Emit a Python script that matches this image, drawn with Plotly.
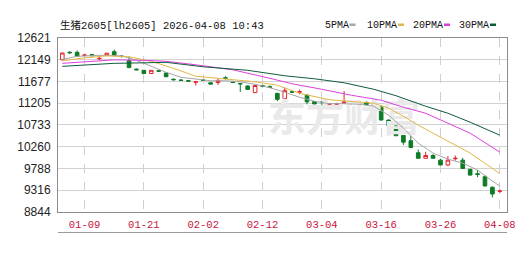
import plotly.graph_objects as go

# ---------------- data ----------------
dates = ["01-06", "01-07", "01-08", "01-09", "01-12", "01-13", "01-14", "01-15", "01-16",
         "01-19", "01-20", "01-21", "01-22", "01-23", "01-26", "01-27", "01-28", "01-29", "01-30",
         "02-02", "02-03", "02-04", "02-05", "02-06", "02-09", "02-10", "02-11", "02-12", "02-13",
         "02-24", "02-25", "02-26", "02-27",
         "03-02", "03-03", "03-04", "03-05", "03-06", "03-09", "03-10", "03-11", "03-12", "03-13",
         "03-16", "03-17", "03-18", "03-19", "03-20", "03-23", "03-24", "03-25", "03-26", "03-27",
         "03-30", "03-31", "04-01", "04-02", "04-03", "04-07", "04-08"]

opens = [12151, 12310, 12310, 12240, 12262, 12170, 12240, 12325, 12230, 12130,
         11945, 11920, 11850, 11910, 11862, 11725, 11710, 11695, 11660, 11710,
         11650, 11655, 11760, 11665, 11635, 11580, 11435, 11590, 11565, 11420,
         11305, 11460, 11445, 11380, 11240, 11230, 11180, 11185, 11210, 11210,
         11200, 11225, 11170, 11120, 10840, 10710, 10505, 10390, 10130, 10010,
         10070, 9970, 9865, 10000, 9970, 9770, 9675, 9610, 9380, 9290]
highs = [12310, 12340, 12350, 12280, 12275, 12200, 12300, 12370, 12245, 12220,
         11960, 11925, 11925, 11925, 11870, 11740, 11725, 11700, 11690, 11720,
         11660, 11740, 11790, 11685, 11640, 11590, 11600, 11610, 11590, 11430,
         11545, 11475, 11500, 11395, 11250, 11240, 11210, 11215, 11470, 11240,
         11255, 11240, 11200, 11165, 10850, 10720, 10515, 10500, 10200, 10150,
         10100, 10000, 10060, 10070, 10020, 9780, 9755, 9640, 9400, 9330]
lows = [12130, 12280, 12215, 12235, 12225, 12140, 12230, 12235, 12195, 11965,
        11920, 11845, 11840, 11890, 11775, 11700, 11690, 11670, 11590, 11690,
        11610, 11600, 11720, 11640, 11450, 11500, 11430, 11550, 11540, 11250,
        11300, 11430, 11400, 11180, 11185, 11130, 11115, 11120, 11195, 11180,
        11165, 11170, 11150, 10830, 10650, 10490, 10300, 10240, 10000, 10000,
        10000, 9860, 9840, 9960, 9780, 9640, 9600, 9400, 9160, 9250]
closes = [12294, 12300, 12225, 12250, 12235, 12180, 12290, 12240, 12220, 11980,
          11930, 11850, 11920, 11900, 11780, 11715, 11700, 11685, 11670, 11700,
          11620, 11700, 11745, 11655, 11625, 11505, 11590, 11575, 11550, 11290,
          11485, 11445, 11455, 11235, 11190, 11220, 11190, 11195, 11230, 11220,
          11210, 11175, 11180, 10840, 10720, 10500, 10360, 10245, 10010, 10070,
          10010, 9865, 9970, 10010, 9790, 9645, 9660, 9410, 9235, 9300]

# moving averages (day index -> value)
ma5_idx = [0, 2, 5, 8, 10, 12, 14, 16, 18, 20, 22, 24, 26, 28, 30, 32, 34, 36, 38,
           40, 42, 44, 46, 48, 50, 52, 54, 56, 58, 59]
ma5_val = [12158, 12223, 12245, 12234, 12137, 12006, 11876, 11768, 11725, 11693,
           11693, 11671, 11617, 11541, 11443, 11335, 11248, 11194, 11194, 11183,
           11140, 10945, 10663, 10338, 10122, 9992, 9905, 9754, 9515, 9407]
ma10_idx = [0, 3, 6, 9, 12, 15, 18, 22, 26, 29, 32, 36, 40, 42, 44, 46, 48, 50, 52, 55, 59]
ma10_val = [12125, 12190, 12234, 12212, 12115, 11963, 11790, 11725, 11671, 11595,
            11421, 11281, 11237, 11205, 11097, 10923, 10728, 10555, 10382, 10122, 9678]
ma20_idx = [0, 3, 7, 11, 14, 18, 23, 28, 31, 35, 39, 43, 46, 49, 52, 55, 59]
ma20_val = [12071, 12103, 12147, 12136, 12115, 12039, 11930, 11746, 11627, 11508,
            11378, 11270, 11118, 10988, 10772, 10555, 10144]
ma30_idx = [0, 3, 7, 11, 14, 19, 25, 30, 34, 38, 42, 45, 49, 52, 55, 59]
ma30_val = [12006, 12034, 12071, 12082, 12093, 11996, 11920, 11801, 11736, 11649,
            11508, 11368, 11140, 10988, 10793, 10512]

y_ticks = [8844, 9316, 9788, 10260, 10733, 11205, 11677, 12149, 12621]
x_tick_labels = ["01-09", "01-21", "02-02", "02-12", "03-04", "03-16", "03-26", "04-08"]

legend_names = ["5PMA", "10PMA", "20PMA", "30PMA"]
ma_colors = ["#a6a6a6", "#e3b648", "#de3fde", "#0f5c3a"]

title_text = "生猪2605[lh2605] 2026-04-08 10:43"
watermark = "东方财富"

# ---------------- figure ----------------
UP = "#e3262e"
DOWN = "#0e7c27"
MONO = "Liberation Mono, Noto Sans CJK SC, monospace"

fig = go.Figure()

# faint watermark behind everything
fig.add_trace(go.Scatter(
    x=[dates[38]], y=[(y_ticks[4] + y_ticks[5]) / 2 - 150], mode="text", text=[watermark],
    textfont=dict(size=38, color="#e9e9e9", family="Noto Sans CJK SC", weight="bold"),
    hoverinfo="skip", showlegend=False))

fig.add_trace(go.Candlestick(
    x=dates, open=opens, high=highs, low=lows, close=closes,
    increasing=dict(line=dict(color=UP, width=1), fillcolor="#ffffff"),
    decreasing=dict(line=dict(color=DOWN, width=1), fillcolor=DOWN),
    whiskerwidth=0, showlegend=False))

for idx, val, col in [(ma5_idx, ma5_val, ma_colors[0]), (ma10_idx, ma10_val, ma_colors[1]),
                      (ma20_idx, ma20_val, ma_colors[2]), (ma30_idx, ma30_val, ma_colors[3])]:
    fig.add_trace(go.Scatter(x=[dates[i] for i in idx], y=val, mode="lines",
                             line=dict(color=col, width=1), hoverinfo="skip", showlegend=False))

W, H = 531, 254
L, R, T, B = 58, 24, 38, 42
pw, ph = W - L - R, H - T - B


def px(xp):
    return (xp - L) / pw


def py(yp):
    return (H - B - yp) / ph


annotations = [dict(x=px(58), y=py(25), xref="paper", yref="paper", text=title_text,
                    showarrow=False, xanchor="left", yanchor="middle",
                    font=dict(family=MONO, size=10.5, color="#111111"))]
shapes = []
leg_x = [323, 365, 410.5, 456.5]
dash_x = [349.5, 398, 444, 490]
for name, lx, dx, col in zip(legend_names, leg_x, dash_x, ma_colors):
    annotations.append(dict(x=px(lx), y=py(25), xref="paper", yref="paper", text=name,
                            showarrow=False, xanchor="left", yanchor="middle",
                            font=dict(family=MONO, size=10, color="#111111")))
    shapes.append(dict(type="rect", xref="paper", yref="paper", x0=px(dx), x1=px(dx + 6),
                       y0=py(26), y1=py(23.5), fillcolor=col, line=dict(width=0)))

# lower frame line under the date labels
shapes.append(dict(type="line", xref="paper", yref="paper", x0=0, x1=1,
                   y0=py(232.5), y1=py(232.5), line=dict(color="#9a9a9a", width=1)))

fig.update_layout(
    width=W, height=H, margin=dict(l=L, r=R, t=T, b=B, pad=0),
    paper_bgcolor="#ffffff", plot_bgcolor="#ffffff",
    annotations=annotations, shapes=shapes, showlegend=False,
    xaxis=dict(type="category", categoryorder="array", categoryarray=dates,
               range=[-0.58, 59.97], rangeslider=dict(visible=False),
               tickmode="array", tickvals=x_tick_labels, ticktext=x_tick_labels,
               showgrid=True, gridcolor="#cfcfcf", griddash="dash", gridwidth=1,
               showline=True, linecolor="#8c8c8c", mirror=True, ticks="",
               ticklabelstandoff=2,
               tickfont=dict(family=MONO, size=10.5, color="#c8143c"), zeroline=False),
    yaxis=dict(range=[y_ticks[0], y_ticks[-1]], tickmode="array", tickvals=y_ticks,
               ticktext=[str(v) for v in y_ticks],
               showgrid=True, gridcolor="#d2d2d2", gridwidth=1,
               showline=True, linecolor="#8c8c8c", mirror=True, ticks="",
               ticklabelstandoff=4,
               tickfont=dict(family="Liberation Sans, Arial", size=12, color="#222222"),
               zeroline=False),
)

fig.write_html("out.html")
